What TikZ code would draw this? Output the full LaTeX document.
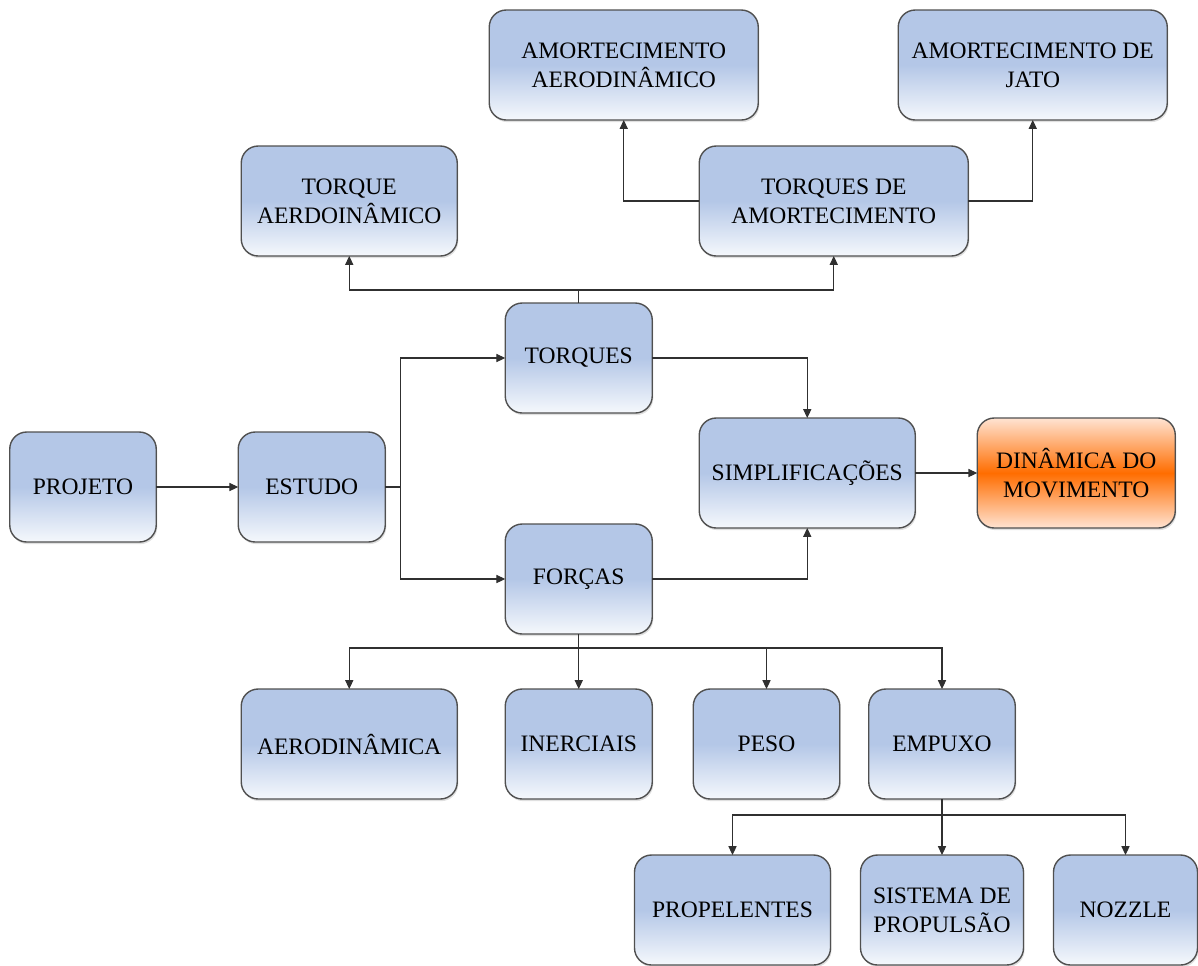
\documentclass[tikz,border=0pt]{standalone}
\usepackage{fontspec}
\setmainfont{Liberation Serif}
\usetikzlibrary{positioning,arrows.meta,shadows}

\definecolor{boxblue}{HTML}{B4C7E7}
\definecolor{boxlight}{HTML}{F5F8FC}
\definecolor{boxedge}{HTML}{505050}
\definecolor{linkgray}{HTML}{303030}
\definecolor{orangemid}{HTML}{FF6D00}
\definecolor{orangelight}{HTML}{FFE3D2}
\pgfdeclareverticalshading{boxfade}{100bp}{color(0bp)=(boxlight); color(25bp)=(boxlight); color(50bp)=(boxblue); color(100bp)=(boxblue)}

\begin{document}
\begin{tikzpicture}[
    node distance=1cm and 1cm,
    box/.style={draw=boxedge, line width=0.8pt, outer sep=0pt, rounded corners=0.34cm, minimum width=2.93cm, minimum height=2.2cm, align=center, shading=boxfade, font=\fontsize{13.4}{16.4}\selectfont, drop shadow={shadow xshift=0.6pt, shadow yshift=-1.2pt, fill=black, opacity=0.12}},
    goal/.style={box, top color=orangelight, bottom color=orangelight, middle color=orangemid},
    arrow/.style={-{Triangle[length=5pt, width=4.6pt]}, line width=0.6pt, draw=linkgray}
]
\useasboundingbox (0,0) rectangle (23.96,-19.3);

% main line
\node[box] (projeto) at (1.66,-9.74) {PROJETO};
\node[box, minimum width=2.94cm, right=1.64cm of projeto] (estudo) {ESTUDO};
\node[box, minimum width=2.94cm, above right=0.38cm and 2.4cm of estudo] (torques) {TORQUES};
\node[box, minimum width=2.94cm, below=2.22cm of torques] (forcas) {FORÇAS};
\node[box, minimum width=4.32cm, below right=0.1cm and 0.94cm of torques] (simplif) {SIMPLIFICAÇÕES};
\node[goal, minimum width=3.96cm, right=1.24cm of simplif] (dinamica) {DINÂMICA DO\\MOVIMENTO};

% torques
\node[box, minimum width=5.38cm, above right=0.94cm and 0.94cm of torques] (amortec) {TORQUES DE\\AMORTECIMENTO};
\node[box, minimum width=4.32cm, above left=0.94cm and 0.96cm of torques] (torqaero) {TORQUE\\AERDOINÂMICO};
\node[box, minimum width=5.38cm, above=0.52cm of amortec, xshift=-4.2cm] (amortaero) {AMORTECIMENTO\\AERODINÂMICO};
\node[box, minimum width=5.38cm, above=0.52cm of amortec, xshift=3.98cm] (amortjato) {AMORTECIMENTO DE\\JATO};

% forcas
\node[box, minimum width=2.94cm, below=1.1cm of forcas] (inerciais) {INERCIAIS};
\node[box, minimum width=4.32cm, left=0.96cm of inerciais] (aerodin) {AERODINÂMICA};
\node[box, right=0.82cm of inerciais] (peso) {PESO};
\node[box, right=0.58cm of peso] (empuxo) {EMPUXO};
\node[box, minimum width=3.26cm, below=1.12cm of empuxo] (sistema) {SISTEMA DE\\PROPULSÃO};
\node[box, minimum width=3.92cm, left=0.6cm of sistema] (propel) {PROPELENTES};
\node[box, minimum width=2.88cm, right=0.6cm of sistema] (nozzle) {NOZZLE};

\draw[arrow] (projeto) -- (estudo);
\draw[linkgray, line width=0.6pt] (estudo.east) -- ++(0.3,0) coordinate (split);
\draw[arrow] (split) |- (torques);
\draw[arrow] (split) |- (forcas);
\draw[arrow] (torques) -| (simplif);
\draw[arrow] (forcas) -| (simplif);
\draw[arrow] (simplif) -- (dinamica);

\draw[linkgray, line width=0.6pt] (torques.north) -- ++(0,0.26) coordinate (tq);
\draw[arrow] (tq) -| (torqaero);
\draw[arrow] (tq) -| (amortec);
\draw[arrow] (amortec) -| (amortaero);
\draw[arrow] (amortec) -| (amortjato);

\draw[linkgray, line width=0.6pt] (forcas.south) -- ++(0,-0.28) coordinate (fc);
\draw[arrow] (fc) -| (aerodin);
\draw[arrow] (fc) -- (inerciais);
\draw[arrow] (fc) -| (peso);
\draw[arrow] (fc) -| (empuxo);

\draw[linkgray, line width=0.6pt] (empuxo.south) -- ++(0,-0.32) coordinate (ep);
\draw[arrow] (ep) -| (propel);
\draw[arrow] (ep) -- (sistema);
\draw[arrow] (ep) -| (nozzle);
\end{tikzpicture}
\end{document}
